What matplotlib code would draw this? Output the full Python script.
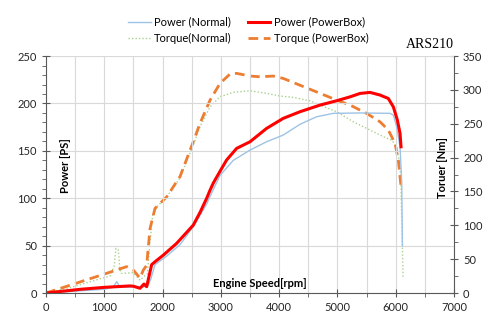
import matplotlib
matplotlib.use("Agg")
import matplotlib.pyplot as plt
from matplotlib.ticker import MultipleLocator

# Power (PS) vs engine speed (rpm)
rpm_pn = [0, 500, 1000, 1150, 1213, 1270, 1500, 1650, 1750, 1800, 1870, 2070, 2299, 2527,
          2757, 2815, 2985, 3213, 3500, 3784, 4070, 4357, 4643, 4929, 5400, 5902, 5959,
          6017, 6074, 6102, 6115]
power_normal = [0, 2, 4, 6, 12, 6, 6.5, 6, 8, 15, 30, 39, 51, 70,
                94, 102, 124, 140, 150.8, 159.6, 166.7, 178, 186, 189.6, 190, 189.6, 187.8,
                175.4, 154.3, 119, 50]

rpm_pb = [0, 300, 600, 1000, 1440, 1500, 1613, 1681, 1727, 1813, 1870, 2013, 2241, 2527,
          2642, 2757, 2815, 2870, 3000, 3098, 3270, 3500, 3784, 4070, 4357, 4701, 4987,
          5216, 5387, 5559, 5730, 5873, 5959, 6028, 6074, 6091]
power_box = [0, 2, 4, 6, 7.5, 7.2, 5, 9.5, 6.7, 30, 33, 40, 52.4, 71.7,
             85, 100, 108.6, 116, 130, 140.3, 152.6, 159.6, 173.7, 184.3, 191.3, 198.3, 202.9,
             207, 210.6, 211.7, 208.9, 205.3, 196.5, 182.5, 168.5, 154.3]

# Torque (Nm) vs engine speed (rpm)
rpm_tn = [0, 500, 926, 1100, 1170, 1200, 1240, 1265, 1290, 1498, 1613, 1698, 1740,
          1784, 1830, 1899, 2070, 2299, 2527, 2642, 2815, 2985, 3213, 3500, 3784, 4014,
          4243, 4529, 4701, 4987, 5272, 5559, 5788, 5930, 6017, 6074, 6091, 6127]
torque_normal = [0, 10, 21, 25, 40, 66, 64, 38, 29, 30, 19, 26, 28,
                 74, 115, 127, 142, 170, 218.6, 245.6, 275, 290, 296.4, 298.8, 295, 291,
                 289, 284, 277.7, 267.8, 253, 240.8, 230.9, 226, 216, 186.6, 157, 22]

rpm_tb = [0, 500, 1000, 1384, 1498, 1613, 1670, 1727, 1784, 1870, 2070, 2299, 2527, 2642,
          2815, 2985, 3157, 3271, 3500, 3671, 3899, 4071, 4357, 4701, 4987, 5216, 5501,
          5730, 5873, 5988, 6045, 6074, 6088]
torque_box = [0, 14, 28, 39, 34, 22, 34, 41, 95, 125, 142, 172, 223.5, 250.6,
              285, 309.7, 323.5, 324.5, 320.5, 319.5, 320.5, 317, 307, 295, 285, 277.7, 265.4,
              253, 240.8, 221, 196.5, 171.8, 160]

plt.rcParams.update({
    "font.family": ["Lato", "DejaVu Sans"],
    "font.size": 8,
    "axes.edgecolor": "#595959",
    "xtick.color": "#595959",
    "ytick.color": "#595959",
    "xtick.labelcolor": "#262626",
    "ytick.labelcolor": "#262626",
})

fig = plt.figure(figsize=(5, 3.3), dpi=100)
ax = fig.add_axes([0.092, 0.112, 0.816, 0.718])
ax2 = ax.twinx()

l1, = ax.plot(rpm_pn, power_normal, color="#9DC3E6", lw=1, label="Power (Normal)")
l2, = ax.plot(rpm_pb, power_box, color="#FF0000", lw=2.2, label="Power (PowerBox)")
l3, = ax2.plot(rpm_tn, torque_normal, color="#A9D18E", lw=1, linestyle=(0, (1, 1.5)),
               label="Torque(Normal)")
l4, = ax2.plot(rpm_tb, torque_box, color="#ED7D31", lw=2, linestyle=(0, (3.5, 2)),
               label="Torque (PowerBox)")
ax.set_zorder(ax2.get_zorder() + 1)
ax.patch.set_visible(False)

ax.set_xlim(0, 7000)
ax.set_ylim(0, 250)
ax2.set_ylim(0, 350)

ax.xaxis.set_major_locator(MultipleLocator(1000))
ax.xaxis.set_minor_locator(MultipleLocator(500))
ax.yaxis.set_major_locator(MultipleLocator(50))
ax.yaxis.set_minor_locator(MultipleLocator(10))
ax2.yaxis.set_major_locator(MultipleLocator(50))
ax2.yaxis.set_minor_locator(MultipleLocator(25))

ax.tick_params(which="major", direction="inout", length=6, width=0.8)
ax.tick_params(which="minor", direction="out", length=3, width=0.6)
ax2.tick_params(which="major", direction="inout", length=6, width=0.8)
ax2.tick_params(which="minor", direction="out", length=3, width=0.6)

ax.grid(True, which="major", axis="y", color="#D9D9D9", lw=0.8)
ax.grid(True, which="minor", axis="x", color="#D9D9D9", lw=0.8)
ax.grid(True, which="major", axis="x", color="#D9D9D9", lw=0.8)
ax.set_axisbelow(True)

for a in (ax, ax2):
    a.spines["top"].set_visible(False)
ax2.spines["left"].set_visible(False)
ax2.spines["bottom"].set_visible(False)
ax.spines["right"].set_visible(False)

ax.text(0.047, 0.536, "Power [PS]", transform=ax.transAxes, rotation=90,
        ha="center", va="center", fontweight="bold", fontsize=8)
ax.text(0.973, 0.53, "Toruer [Nm]", transform=ax.transAxes, rotation=90,
        ha="center", va="center", fontweight="bold", fontsize=8)
ax.text(0.525, 0.041, "Engine Speed[rpm]", transform=ax.transAxes,
        ha="center", va="center", fontweight="bold", fontsize=8)

fig.text(0.86, 0.864, "ARS210", family=["Liberation Serif", "DejaVu Serif"],
         fontsize=10, ha="center", va="center")

fig.legend(handles=[l1, l3, l2, l4], loc="center", bbox_to_anchor=(0.497, 0.909),
           ncol=2, frameon=False, fontsize=8, handlelength=2.0, columnspacing=1.5,
           labelspacing=0.45, handletextpad=0.3)

fig.savefig("out.png", dpi=100)
